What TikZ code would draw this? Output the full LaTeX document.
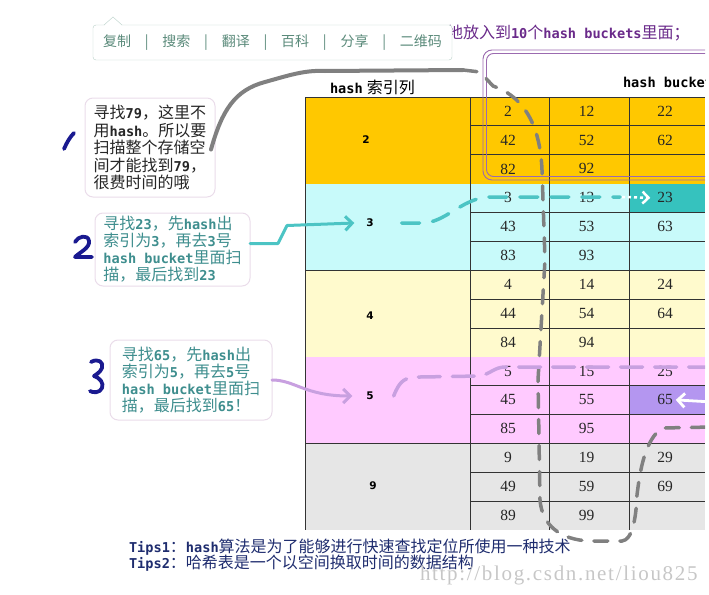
\documentclass[tikz,border=0pt]{standalone}
\usepackage{fontspec}
\setmainfont{Liberation Serif}
\newfontfamily\cjk{Noto Sans CJK SC}
\newfontfamily\mono{DejaVu Sans Mono}[Scale=0.85]
\newfontfamily\idxfont{DejaVu Sans}
\newfontfamily\markfont{Liberation Serif}[LetterSpace=8]
\usepackage{xcolor}
\usepackage{tikz}
\usetikzlibrary{arrows.meta, positioning}

\definecolor{idxorange}{HTML}{FFC800}
\definecolor{idxcyan}{HTML}{C8FAFA}
\definecolor{idxyellow}{HTML}{FFFACD}
\definecolor{idxpink}{HTML}{FFCAFF}
\definecolor{idxgray}{HTML}{E6E6E6}
\definecolor{hitteal}{HTML}{36C2BE}
\definecolor{hitpurple}{HTML}{B496F0}
\definecolor{noteteal}{HTML}{3E8E8E}
\definecolor{noteborder}{HTML}{EADCEA}
\definecolor{pathteal}{HTML}{4CC4C4}
\definecolor{pathpurple}{HTML}{C8A0E0}
\definecolor{pathgray}{HTML}{808080}
\definecolor{handblue}{HTML}{1A1A90}
\definecolor{tipnavy}{HTML}{1E2C6E}
\definecolor{headpurple}{HTML}{6A2A8A}
\definecolor{boxpurple}{HTML}{9B6AB0}
\definecolor{menugreen}{HTML}{5A8A7A}
\definecolor{menuborder}{HTML}{B8D0C8}

\newcommand{\hs}[1]{{\mono\bfseries #1}}
\newcommand{\menusep}{\hspace{13.8pt}|\hspace{13.8pt}}

\begin{document}
\begin{tikzpicture}[x=1pt, y=-1pt,
    every node/.style={inner sep=0pt, outer sep=0pt},
    note/.style={draw=noteborder, line width=1pt, fill=white, rounded corners=8pt, align=left},
    cellnum/.style={font=\fontsize{15.5}{15.5}\selectfont, text=black!85},
    idxnum/.style={font=\idxfont\bfseries\fontsize{10.5}{10.5}\selectfont},
    tableline/.style={draw=black!80, line width=0.8pt},
    hand/.style={handblue, line width=3.8pt, line cap=round, line join=round},
    walk/.style={line width=3.5pt, line cap=round, dash pattern=on 14pt off 12pt}]
    \useasboundingbox (0,0) rectangle (709,594);
    \clip (0,0) rectangle (705,594);

    % Table fills
    \foreach \col [count=\g from 0] in {idxorange,idxcyan,idxyellow,idxpink,idxgray}
        \fill[\col] (305,{97+86.6*\g}) rectangle (705,{97+86.6*(\g+1)});
    \fill[hitteal] (629,183.6) rectangle (705,212.5);
    \fill[hitpurple] (629,385.7) rectangle (705,414.5);

    % Table rules
    \foreach \yy in {97,270.2,443.4}
        \draw[tableline] (305,\yy) -- (705,\yy);
    \foreach \g in {0,...,4}
        \foreach \r in {1,2}
            \draw[tableline] (470,{97+86.6*\g+28.87*\r}) -- (705,{97+86.6*\g+28.87*\r});
    \foreach \xx in {305,470,549,629}
        \draw[tableline] (\xx,97) -- (\xx,530);

    % Bucket values
    \foreach \d [count=\g from 0] in {2,3,4,5,9}
        \foreach \r in {0,1,2}
            \foreach \c in {0,1,2} {
                \pgfmathtruncatemacro{\v}{40*\r+10*\c+\d}
                \ifnum\v<100
                    \node[cellnum] (cell-\v) at ({508+78.5*\c},{97+86.6*\g+28.87*\r+14.2}) {\v};
                \fi
            }

    % Index column
    \node[idxnum] (idx2) at (366,140) {2};
    \node[idxnum] (idx3) at (370,223) {3};
    \node[idxnum] (idx4) at (370,316) {4};
    \node[idxnum] (idx5) at (370,396) {5};
    \node[idxnum] (idx9) at (373,486) {9};

    % Headers
    \node[anchor=west, font=\fontsize{16}{16}\selectfont] (idxhead) at (330,87) {\hs{hash} {\cjk 索引列}};
    \node[anchor=west, font=\fontsize{16}{16}\selectfont] (buckhead) at (623,82) {\hs{hash buckets}};
    \node[anchor=west, text=headpurple, font=\cjk\fontsize{16}{16}\selectfont] (title) at (447,33)
        {地放入到\hs{10}个\hs{hash buckets}里面；};

    % Purple frame round the buckets
    \draw[boxpurple, line width=0.9pt, rounded corners=9pt] (720,50) -- (483,50) -- (483,180) -- (720,180);
    \draw[boxpurple, line width=0.9pt, rounded corners=7pt] (720,53.5) -- (486.5,53.5) -- (486.5,176.5) -- (720,176.5);

    % Copy menu
    \node[draw=menuborder, fill=white, rounded corners=3pt, minimum width=359pt, minimum height=35pt] (menu) at (272.5,42.5) {};
    \fill[white] (104,26) -- (113,17) -- (122,26) -- cycle;
    \draw[menuborder] (104,25) -- (113,17) -- (122,25);
    \node[anchor=west, text=menugreen, font=\cjk\fontsize{14}{14}\selectfont] (menutext) at (103,43)
        {复制\menusep 搜索\menusep 翻译\menusep 百科\menusep 分享\menusep 二维码};

    % Notes
    \node[note, minimum width=130pt, minimum height=99pt, text=black!85, font=\cjk\fontsize{16}{17.5}\selectfont] (note1) at (150,147.5)
        {寻找\hs{79}，这里不\\用\hs{hash}。所以要\\扫描整个存储空\\间才能找到\hs{79}，\\很费时间的哦};
    \node[note, minimum width=155pt, minimum height=73pt, text=noteteal, font=\cjk\fontsize{16}{17}\selectfont] (note2) at (172.5,249.5)
        {寻找\hs{23}，先\hs{hash}出\\索引为\hs{3}，再去\hs{3}号\\\hs{hash bucket}里面扫\\描，最后找到\hs{23}};
    \node[note, minimum width=162pt, minimum height=80pt, text=noteteal, font=\cjk\fontsize{16}{17}\selectfont] (note3) at (191,380)
        {寻找\hs{65}，先\hs{hash}出\\索引为\hs{5}，再去\hs{5}号\\\hs{hash bucket}里面扫\\描，最后找到\hs{65}！};

    % Hand-written numbers
    \draw[hand] (64,149) .. controls (67,142) and (70,137) .. (74,133);
    \draw[hand] (75,242) .. controls (78,236) and (88,234) .. (89,241) .. controls (90,248) and (80,252) .. (75,257) -- (92,257);
    \draw[hand] (91,362) .. controls (98,358) and (104,362) .. (102,368) .. controls (100,373) and (95,375) .. (94,376)
        .. controls (100,378) and (104,383) .. (102,388) .. controls (100,393) and (93,393) .. (90,391);

    % Search for 79
    \coordinate (gtop) at (463,70);
    \coordinate (gexit) at (712,427);
    \draw[pathgray, line width=4pt, line cap=round] ([xshift=-4pt,yshift=-2pt]note1.east)
        .. controls (222,110) and (235,90) .. (265,82) .. controls (290,75) and (305,70) .. (325,71) -- (gtop);
    \draw[pathgray, walk] (gtop) -- (480,72) -- (493,86) .. controls (520,95) and (540,120) .. (542,170) -- (545,260)
        -- (538,380) -- (540,500) .. controls (542,525) and (560,540) .. (590,541) -- (622,541)
        .. controls (632,540) and (636,520) .. (637,495) .. controls (640,470) and (645,440) .. (662,428) -- (gexit);

    % Search for 23
    \draw[pathteal, line width=3pt, line cap=round, line join=round, -{Straight Barb[length=7pt, width=14pt]}]
        ([yshift=6pt]note2.east) -- ++(28,0) -- ++(9,-18) -- ([xshift=-12pt]idx3.west);
    \draw[pathteal, walk, dash pattern=on 18pt off 13pt] ([xshift=28pt]idx3.east) -- (422,223)
        .. controls (445,223) and (460,200) .. (487,197) -- (620,197);
    \draw[white, line width=2.5pt, dash pattern=on 3pt off 3pt, -{Straight Barb[length=6pt, width=12pt]}]
        (622,197) -- ([xshift=-7pt]cell-23.west);

    % Search for 65
    \coordinate (pexit) at (712,367);
    \coordinate (pback) at (712,402);
    \draw[pathpurple, line width=3pt, line cap=round, -{Straight Barb[length=7pt, width=14pt]}]
        (note3.east) .. controls (295,380) and (305,396) .. ([xshift=-14pt]idx5.west);
    \draw[pathpurple, walk, dash pattern=on 22pt off 12pt] ([xshift=20pt]idx5.east) .. controls (400,380) and (405,377) .. (420,377)
        -- (480,376) .. controls (490,374) and (495,367) .. (505,367) -- (pexit);
    \draw[white, line width=2.8pt, -{Straight Barb[length=7pt, width=14pt]}] (pback) -- ([xshift=3pt]cell-65.east);

    % Tips
    \node[anchor=west, text=tipnavy, font=\cjk\fontsize{16}{16}\selectfont] (tip1) at (129,547)
        {\hs{Tips1}：\hs{hash}算法是为了能够进行快速查找定位所使用一种技术};
    \node[anchor=west, text=tipnavy, font=\cjk\fontsize{16}{16}\selectfont] (tip2) at (129,563)
        {\hs{Tips2}：哈希表是一个以空间换取时间的数据结构};
    \node[anchor=west, text=black!22, font=\markfont\fontsize{21}{21}\selectfont] (mark) at (420,575) {http://blog.csdn.net/liou825};
\end{tikzpicture}
\end{document}
